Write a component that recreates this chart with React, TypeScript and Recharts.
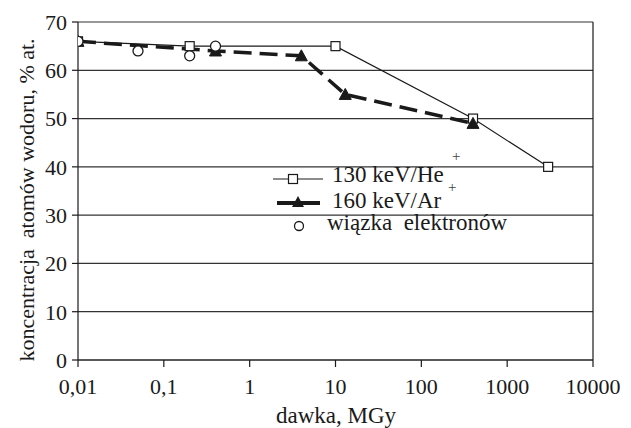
import React from 'react';
import {
  ComposedChart,
  Line,
  Scatter,
  XAxis,
  YAxis,
  CartesianGrid,
  ReferenceLine,
  Label,
} from 'recharts';

// dawka [MGy] i koncentracja wodoru [% at.]
const heDose = [0.01, 0.2, 10, 400, 3000];
const heConc = [66, 65, 65, 50, 40];

const arDose = [0.01, 0.4, 4, 13, 400];
const arConc = [66, 64, 63, 55, 49];

const elDose = [0.01, 0.05, 0.2, 0.4];
const elConc = [66, 64, 63, 65];

const doseTicks = [0.01, 0.1, 1, 10, 100, 1000, 10000];
const concTicks = [0, 10, 20, 30, 40, 50, 60, 70];

const toPoints = (xs: number[], ys: number[]) => xs.map((x, i) => ({ x, y: ys[i] }));

const heData = toPoints(heDose, heConc);
const arData = toPoints(arDose, arConc);
const elData = toPoints(elDose, elConc);

const FONT = '"Liberation Serif", serif';
const INK = '#1a1a1a';

function SquareDot(props: any) {
  const { cx, cy, index } = props;
  if (cx == null || cy == null) return null;
  return (
    <rect key={`sq-${index}`} x={cx - 4.5} y={cy - 4.5} width={9} height={9}
      fill="#fff" stroke={INK} strokeWidth={1.2} />
  );
}

function TriangleDot(props: any) {
  const { cx, cy, index } = props;
  if (cx == null || cy == null) return null;
  return (
    <path key={`tr-${index}`} d={`M${cx},${cy - 6} L${cx + 6},${cy + 5} L${cx - 6},${cy + 5} Z`}
      fill={INK} stroke={INK} strokeWidth={1} />
  );
}

function CircleDot(props: any) {
  const { cx, cy } = props;
  return <circle cx={cx} cy={cy} r={5} fill="#fff" stroke={INK} strokeWidth={1.3} />;
}

// legenda rysowana nad obszarem wykresu, bez tła (linie siatki przechodzą pod nią)
function ChartLegend() {
  return (
    <svg width={280} height={90} style={{ position: 'absolute', left: 260, top: 150, overflow: 'visible' }}>
      <g fontFamily={FONT} fill={INK}>
        <line x1={13} y1={29} x2={63} y2={29} stroke={INK} strokeWidth={1.2} />
        <rect x={28.5} y={24.5} width={9} height={9} fill="#fff" stroke={INK} strokeWidth={1.2} />
        <text x={72} y={32} fontSize={23} fill={INK}>130 keV/He</text>
        <text x={192} y={11} fontSize={15} fill="#444">+</text>

        <line x1={17} y1={53} x2={60} y2={53} stroke={INK} strokeWidth={4} />
        <path d="M38,46 L44,57 L32,57 Z" fill={INK} />
        <text x={72} y={58} fontSize={23} fill={INK}>160 keV/Ar</text>
        <text x={188} y={42} fontSize={15} fill="#444">+</text>

        <circle cx={39} cy={76} r={4.5} fill="#fff" stroke={INK} strokeWidth={1.3} />
        <text x={67} y={80} fontSize={23} fill={INK} style={{ whiteSpace: 'pre' }}>wiązka  elektronów</text>
      </g>
    </svg>
  );
}

export default function App() {
  return (
    <div style={{ position: 'absolute', left: 0, top: 0, width: 631, height: 428, background: '#fff' }}>
      <ComposedChart width={631} height={428} margin={{ top: 22, right: 38, bottom: 0, left: 0 }}>
        <CartesianGrid horizontal vertical={false} stroke="#333" strokeWidth={1.2} />
        <XAxis
          dataKey="x"
          type="number"
          scale="log"
          domain={[0.01, 10000]}
          ticks={doseTicks}
          allowDataOverflow
          height={68}
          tickSize={7}
          tickMargin={11}
          tickFormatter={(v) => String(v).replace('.', ',')}
          tick={{ fontSize: 22, fill: INK, fontFamily: FONT }}
          stroke={INK}
          strokeWidth={1.2}
        >
          <Label
            content={() => (
              <text x={336} y={423} textAnchor="middle" fontSize={23} fill={INK} fontFamily={FONT}>
                dawka, MGy
              </text>
            )}
          />
        </XAxis>
        <YAxis
          dataKey="y"
          type="number"
          domain={[0, 70]}
          ticks={concTicks}
          width={78}
          tickSize={6}
          tickMargin={5}
          tick={{ fontSize: 22, fill: INK, fontFamily: FONT }}
          stroke={INK}
          strokeWidth={1.2}
        >
          <Label
            content={() => (
              <text x={26} y={200} transform="rotate(-90 26 200)" textAnchor="middle"
                dominantBaseline="central" fontSize={22} fill={INK} fontFamily={FONT}
                style={{ whiteSpace: 'pre' }}>
                koncentracja  atomów wodoru, % at.
              </text>
            )}
          />
        </YAxis>
        <ReferenceLine x={10000} stroke={INK} strokeWidth={1.2} />
        <Line
          data={heData}
          dataKey="y"
          type="linear"
          stroke={INK}
          strokeWidth={1.2}
          dot={<SquareDot />}
          activeDot={false}
          isAnimationActive={false}
        />
        <Line
          data={arData}
          dataKey="y"
          type="linear"
          stroke={INK}
          strokeWidth={3.5}
          strokeDasharray="18 8"
          dot={<TriangleDot />}
          activeDot={false}
          isAnimationActive={false}
        />
        <Scatter data={elData} dataKey="y" shape={<CircleDot />} isAnimationActive={false} />
      </ComposedChart>
      <ChartLegend />
    </div>
  );
}
